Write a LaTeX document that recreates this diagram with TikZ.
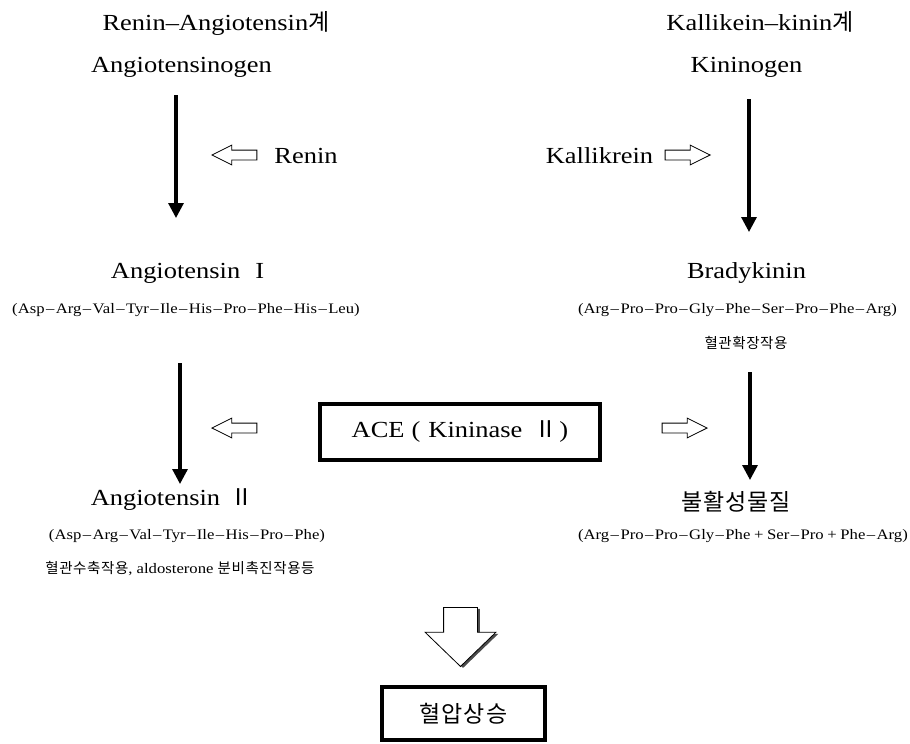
\documentclass[tikz,border=0pt]{standalone}
\usepackage{fontspec}
\setmainfont{Liberation Serif}[FakeStretch=1.15]
\newfontfamily\kr{Noto Sans CJK KR}[LetterSpace=4]
\usetikzlibrary{arrows.meta, shapes, shadows}

\newcommand{\bigt}{\fontsize{23}{27}\selectfont}
\newcommand{\smallt}{\fontsize{14.5}{17}\selectfont}
\newcommand{\dsh}{\makebox[11.2pt]{--}}
\newcommand{\pls}{\makebox[16.7pt]{+}}

\tikzset{
  flow/.style={->, line width=3.2pt, line cap=butt},
  hollow/.style={single arrow, draw, line width=0.8pt, inner xsep=0pt, inner ysep=4.5pt, minimum width=19pt,
    minimum height=45pt, single arrow head extend=5pt, single arrow tip angle=53, anchor=tip},
  enzbox/.style={draw, line width=4pt, inner sep=0pt}
}

\begin{document}
\begin{tikzpicture}[line cap=round,line join=miter,>={Triangle[width=15pt,length=15pt]},x=1.0pt,y=-1.0pt]
\useasboundingbox (0,0) rectangle (910,744);
% Renin-Angiotensin side
\draw (216,30) node[anchor=base] (ras) {\bigt Renin--Angiotensin{\kr 계}};
\draw (181.5,72) node[anchor=base] (agen) {\bigt Angiotensinogen};
\draw (306,163) node[anchor=base] (renin) {\bigt Renin};
\draw (187.5,278) node[anchor=base] (ang1) {\bigt Angiotensin\hspace{15pt}I};
\draw (186,313) node[anchor=base] (seq1) {\smallt (Asp\dsh Arg\dsh Val\dsh Tyr\dsh Ile\dsh His\dsh Pro\dsh Phe\dsh His\dsh Leu)};
\draw (172,505) node[anchor=base] (ang2) {\bigt Angiotensin\hspace{10pt}{\kr Ⅱ}};
\draw (187,539) node[anchor=base] (seq2) {\smallt (Asp\dsh Arg\dsh Val\dsh Tyr\dsh Ile\dsh His\dsh Pro\dsh Phe)};
\draw (180,573) node[anchor=base] (act1) {\smallt{\kr 혈관수축작용}, aldosterone {\kr 분비촉진작용등}};
% Kallikrein-kinin side
\draw (760,30) node[anchor=base] (kks) {\bigt Kallikein--kinin{\kr 계}};
\draw (746.5,72) node[anchor=base] (kgen) {\bigt Kininogen};
\draw (599.5,163) node[anchor=base] (kall) {\bigt Kallikrein};
\draw (746.5,278) node[anchor=base] (brad) {\bigt Bradykinin};
\draw (737.5,313) node[anchor=base] (seq3) {\smallt (Arg\dsh Pro\dsh Pro\dsh Gly\dsh Phe\dsh Ser\dsh Pro\dsh Phe\dsh Arg)};
\draw (746,343) node (act2) {\smallt\kr 혈관확장작용};
\draw (736,502) node (inact) {\bigt\kr 불활성물질};
\draw (743,539) node[anchor=base] (seq4) {\smallt (Arg\dsh Pro\dsh Pro\dsh Gly\dsh Phe\pls Ser\dsh Pro\pls Phe\dsh Arg)};
% enzymes
\node[enzbox, minimum width=280pt, minimum height=56pt] (ace) at (460,432)
  {\bigt ACE\hspace{7pt}(\hspace{8pt}Kininase\hspace{12pt}{\kr Ⅱ}\hspace{2pt})};
\node[enzbox, minimum width=163pt, minimum height=53pt] (bp) at (463.5,713.5) {\bigt\kr 혈압상승};
\node[hollow, shape border rotate=180] (hr) at (211,155) {};
\node[hollow] (hk) at (711,155) {};
\node[hollow, shape border rotate=180] (ha) at (211,428) {};
\node[hollow] (hb) at (708,428) {};
\node[single arrow, draw, line width=0.8pt, fill=white, inner xsep=16.5pt, inner ysep=0pt, anchor=tip,
  shape border rotate=270, minimum width=70pt, minimum height=59pt,
  single arrow head extend=18.5pt, single arrow tip angle=92,
  drop shadow={shadow xshift=2.5pt, shadow yshift=-1.5pt, fill=black!70, opacity=1}] (rise) at (460.5,667) {};
% reaction arrows
\coordinate (a1) at (176,95);
\coordinate (a2) at (176,218);
\coordinate (a3) at (180,363);
\coordinate (a4) at (180,484);
\coordinate (b1) at (749,99);
\coordinate (b2) at (749,232);
\coordinate (b3) at (750,372);
\coordinate (b4) at (750,480);
\draw[flow] (a1) -- (a2);
\draw[flow] (a3) -- (a4);
\draw[flow] (b1) -- (b2);
\draw[flow] (b3) -- (b4);
\end{tikzpicture}
\end{document}
